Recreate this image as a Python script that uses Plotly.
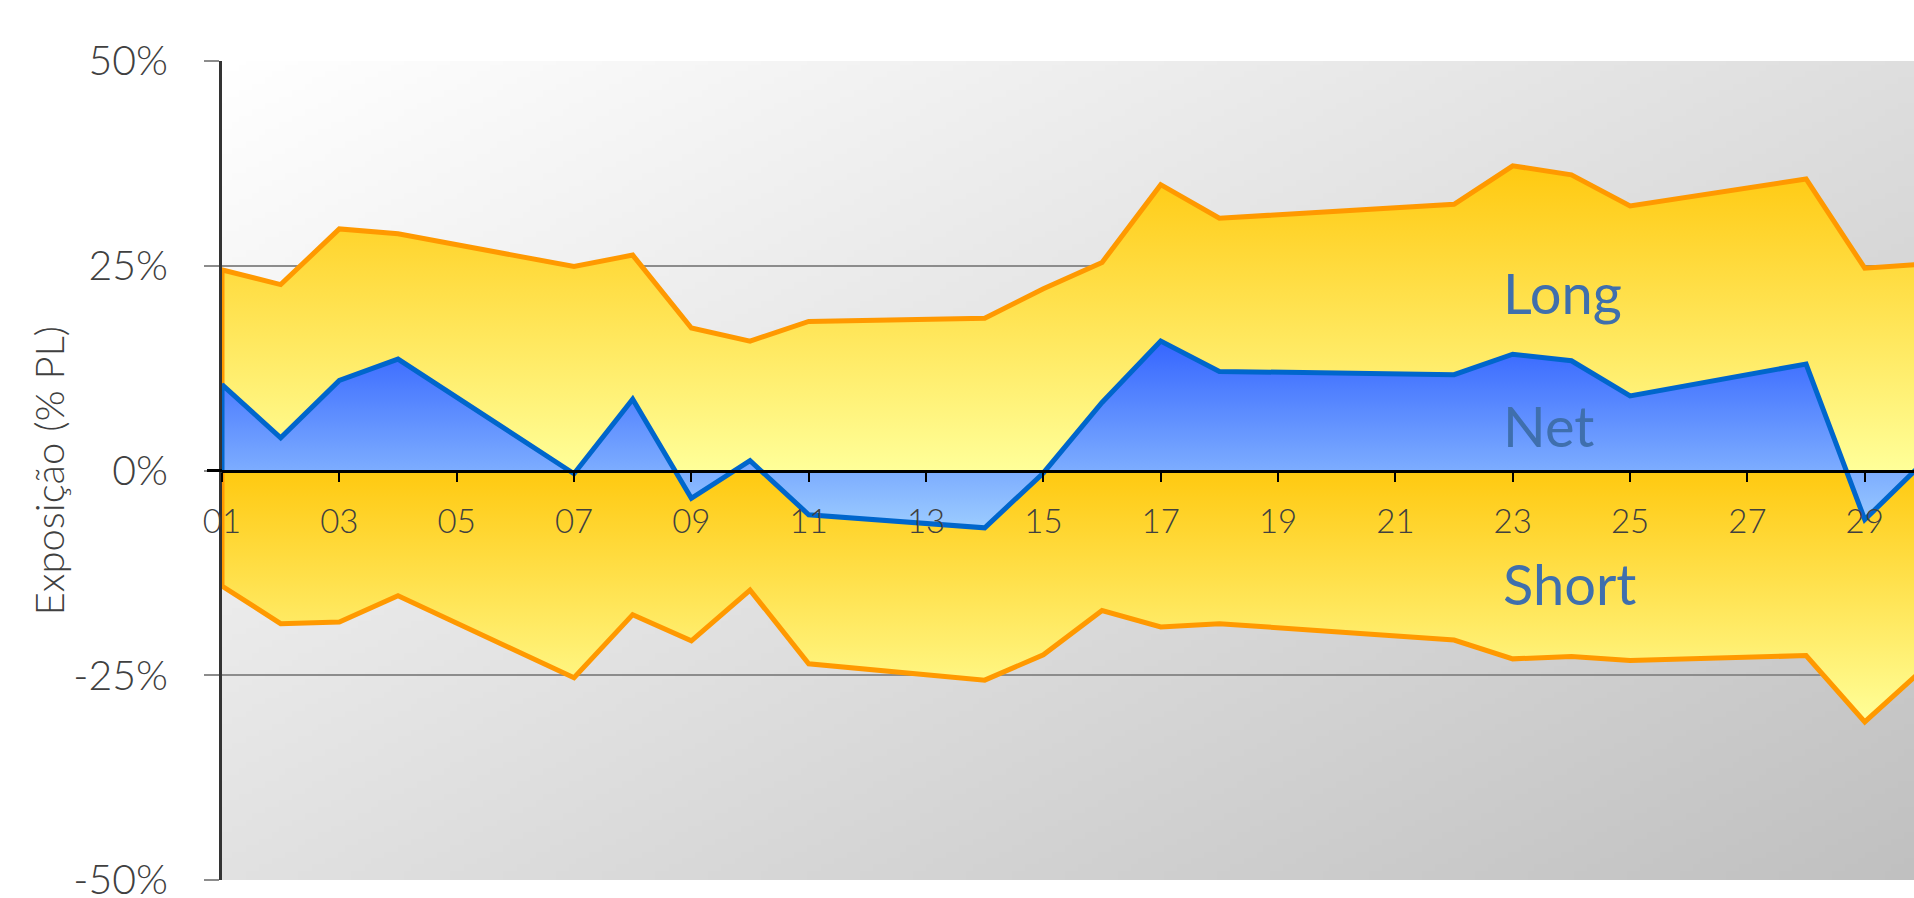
import base64
import struct
import zlib

import numpy as np
import plotly.graph_objects as go

# ---------------- data ----------------
days = [1, 2, 3, 4, 7, 8, 9, 10, 11, 14, 15, 16, 17, 18, 22, 23, 24, 25, 28, 29, 30]
long_pct = [24.5, 22.7, 29.5, 28.9, 24.9, 26.3, 17.4, 15.8, 18.2, 18.6, 22.2,
            25.4, 34.9, 30.8, 32.5, 37.2, 36.1, 32.3, 35.6, 24.7, 25.2]
short_pct = [-14.1, -18.7, -18.5, -15.3, -25.3, -17.6, -20.8, -14.6, -23.6, -25.6, -22.5,
             -17.1, -19.1, -18.7, -20.7, -23.0, -22.7, -23.2, -22.6, -30.7, -24.2]
net_pct = [10.5, 4.0, 11.0, 13.6, -0.4, 8.7, -3.4, 1.2, -5.4, -7.0, -0.3,
           8.3, 15.8, 12.1, 11.7, 14.2, 13.4, 9.1, 13.0, -6.0, 1.0]

x_tick_vals = [1, 3, 5, 7, 9, 11, 13, 15, 17, 19, 21, 23, 25, 27, 29]
x_tick_text = ["01", "03", "05", "07", "09", "11", "13", "15", "17", "19",
               "21", "23", "25", "27", "29"]
y_tick_vals = [-50, -25, 0, 25, 50]
y_tick_text = ["-50%", "-25%", "0%", "25%", "50%"]

series_labels = ["Long", "Net", "Short"]
y_title = "Exposição (% PL)"

FONT = "Lato"
W, H = 1914, 898
M_L, M_R, M_T, M_B = 222, 0, 61, 18


# ---------------- background gradient (diagonal white -> grey) ----------------
def gray_gradient_png(w=256, h=128):
    xs = np.linspace(0, 1, w)
    ys = np.linspace(0, 1, h)
    g = 255 - 33 * xs[None, :] - 30 * ys[:, None]
    g = np.clip(np.round(g), 0, 255).astype(np.uint8)
    raw = b"".join(b"\x00" + g[i].tobytes() for i in range(h))

    def chunk(tag, data):
        c = struct.pack(">I", len(data)) + tag + data
        return c + struct.pack(">I", zlib.crc32(tag + data) & 0xFFFFFFFF)

    png = (b"\x89PNG\r\n\x1a\n"
           + chunk(b"IHDR", struct.pack(">IIBBBBB", w, h, 8, 0, 0, 0, 0))
           + chunk(b"IDAT", zlib.compress(raw, 9))
           + chunk(b"IEND", b""))
    return "data:image/png;base64," + base64.b64encode(png).decode()


def closed_area(vals):
    """Polygon for an area between the series and the zero baseline."""
    xs = [days[0]] + list(days) + [days[-1]]
    ys = [0] + list(vals) + [0]
    return xs, ys


fig = go.Figure()

lx, ly = closed_area(long_pct)
fig.add_trace(go.Scatter(
    x=lx, y=ly, mode="lines", fill="toself",
    fillgradient=dict(type="vertical", start=0, stop=max(long_pct),
                      colorscale=[[0, "#FFFF99"], [1, "#FFC910"]]),
    line=dict(color="#FF9900", width=5),
    hoverinfo="skip", showlegend=False, name="Long"))

sx, sy = closed_area(short_pct)
fig.add_trace(go.Scatter(
    x=sx, y=sy, mode="lines", fill="toself",
    fillgradient=dict(type="vertical", start=min(short_pct), stop=0,
                      colorscale=[[0, "#FFFF99"], [1, "#FFC910"]]),
    line=dict(color="#FF9900", width=5),
    hoverinfo="skip", showlegend=False, name="Short"))

nx, ny = closed_area(net_pct)
fig.add_trace(go.Scatter(
    x=nx, y=ny, mode="lines", fill="toself",
    fillgradient=dict(type="vertical", start=min(net_pct), stop=max(net_pct),
                      colorscale=[[0, "#9CCCFF"], [1, "#3565FF"]]),
    line=dict(color="#0066CC", width=5),
    hoverinfo="skip", showlegend=False, name="Net"))

plot_w = W - M_L - M_R
x_right = 1 + (plot_w / 58.67)  # plot continues past the right edge of the picture

fig.update_layout(
    width=W, height=H,
    margin=dict(l=M_L, r=M_R, t=M_T, b=M_B, autoexpand=False),
    paper_bgcolor="white",
    plot_bgcolor="rgba(0,0,0,0)",
    showlegend=False,
    font=dict(family=FONT, color="#404040"),
    images=[dict(source=gray_gradient_png(), xref="paper", yref="paper",
                 x=0, y=1, sizex=1, sizey=1, sizing="stretch",
                 xanchor="left", yanchor="top", layer="below")],
    xaxis=dict(
        range=[1, x_right], anchor="free", position=0.5,
        showgrid=False, zeroline=False,
        showline=True, linecolor="black", linewidth=3.2,
        ticks="outside", ticklen=9, tickwidth=2, tickcolor="black",
        tickmode="array", tickvals=x_tick_vals, ticktext=x_tick_text,
        tickfont=dict(family=FONT, size=33, color="#404040", weight=300),
        ticklabelstandoff=12, automargin=False,
    ),
    yaxis=dict(
        range=[-50, 50],
        showgrid=True, gridcolor="#8c8c8c", gridwidth=1.5,
        zeroline=False,
        showline=True, linecolor="#333333", linewidth=2.5,
        ticks="outside", ticklen=15, tickwidth=1.5, tickcolor="#8c8c8c",
        tickmode="array", tickvals=y_tick_vals, ticktext=y_tick_text,
        tickfont=dict(family=FONT, size=41, color="#404040", weight=300),
        ticklabelstandoff=28, ticklabeloverflow="allow", automargin=False,
    ),
)

# black extension of the zero line into the y tick area
fig.add_shape(type="line", xref="paper", yref="y",
              x0=-15 / plot_w, x1=0, y0=0, y1=0,
              line=dict(color="black", width=3), layer="above")

# y-axis title
fig.add_annotation(text=y_title, textangle=-90, xref="paper", yref="paper",
                   x=(48 - M_L) / plot_w, y=0.5, xanchor="center", yanchor="middle",
                   showarrow=False,
                   font=dict(family=FONT, size=40, color="#404040", weight=300))

# in-chart series labels
label_pos = {"Long": 21.7, "Net": 5.45, "Short": -13.8}
for name in series_labels:
    fig.add_annotation(text=name, xref="x", yref="y", x=22.8, y=label_pos[name],
                       xanchor="left", yanchor="middle", showarrow=False,
                       font=dict(family=FONT, size=56, color="#3F6FAD"))

fig.write_html("out.html",
               config={"displayModeBar": False},
               post_script="document.body.style.margin='0';"
                           "document.body.style.overflow='hidden';")
